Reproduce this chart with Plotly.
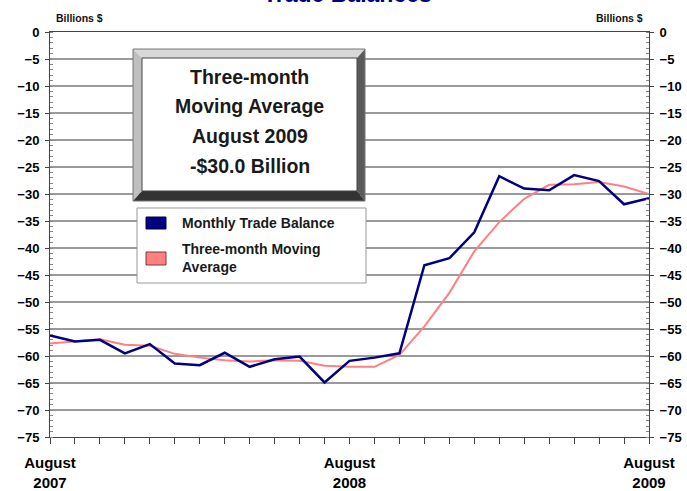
import plotly.graph_objects as go

months = list(range(25))  # August 2007 .. August 2009
tick_positions = [0, 12, 24]
tick_labels = ["August<br>2007", "August<br>2008", "August<br>2009"]

monthly_balance = [-56.2, -57.3, -57.0, -59.5, -57.8, -61.4, -61.7, -59.4, -62.0, -60.6,
                   -60.1, -64.9, -60.9, -60.3, -59.5, -43.2, -41.9, -37.1, -26.7, -29.0,
                   -29.3, -26.5, -27.6, -31.9, -30.8]
moving_avg = [-57.7, -57.3, -56.9, -57.9, -58.1, -59.6, -60.3, -60.8, -61.0, -60.8,
              -60.9, -61.8, -62.0, -62.0, -59.8, -54.5, -48.3, -40.6, -35.2, -30.9,
              -28.3, -28.2, -27.8, -28.6, -30.0]

NAVY = "#000080"
PINK = "#ff8080"
FONT = "Arial, Liberation Sans, sans-serif"

W, H = 687, 491
L, R, T, B = 50, 649, 32, 437


def px(x):
    return (x - L) / (R - L)


def py(y):
    return (B - y) / (B - T)


fig = go.Figure()
fig.add_trace(go.Scatter(x=months, y=moving_avg, mode="lines", name="Three-month Moving Average",
                         line=dict(color=PINK, width=2), showlegend=False))
fig.add_trace(go.Scatter(x=months, y=monthly_balance, mode="lines", name="Monthly Trade Balance",
                         line=dict(color=NAVY, width=2.5), showlegend=False))
fig.add_trace(go.Scatter(x=[0], y=[-75], yaxis="y2", mode="markers", marker=dict(opacity=0),
                         showlegend=False, hoverinfo="skip"))

shapes = []
# Bevelled text box
bx0, bx1, by0, by1 = 133, 365, 49, 201
ix0, ix1, iy0, iy1 = 142, 357, 58, 191


def poly(pts, color):
    d = "M " + " L ".join(f"{px(a)},{py(b)}" for a, b in pts) + " Z"
    return dict(type="path", xref="paper", yref="paper", path=d, fillcolor=color,
                line=dict(width=0), layer="above")


shapes.append(poly([(bx0, by0), (bx1, by0), (ix1, iy0), (ix0, iy0)], "#d9d9d9"))
shapes.append(poly([(bx0, by0), (ix0, iy0), (ix0, iy1), (bx0, by1)], "#bfbfbf"))
shapes.append(poly([(bx1, by0), (bx1, by1), (ix1, iy1), (ix1, iy0)], "#5a5a5a"))
shapes.append(poly([(bx0, by1), (ix0, iy1), (ix1, iy1), (bx1, by1)], "#333333"))
shapes.append(dict(type="rect", xref="paper", yref="paper", x0=px(bx0), x1=px(bx1), y0=py(by1), y1=py(by0),
                   line=dict(color="#777777", width=1), layer="above"))
shapes.append(dict(type="rect", xref="paper", yref="paper", x0=px(ix0), x1=px(ix1), y0=py(iy1), y1=py(iy0),
                   fillcolor="white", line=dict(color="#444444", width=1), layer="above"))
# Legend box
shapes.append(dict(type="rect", xref="paper", yref="paper", x0=px(137), x1=px(366), y0=py(283), y1=py(208),
                   fillcolor="white", line=dict(color="#999999", width=1), layer="above"))
shapes.append(dict(type="rect", xref="paper", yref="paper", x0=px(146), x1=px(166), y0=py(229), y1=py(217),
                   fillcolor=NAVY, line=dict(color="#000040", width=1), layer="above"))
shapes.append(dict(type="rect", xref="paper", yref="paper", x0=px(146), x1=px(166), y0=py(265), y1=py(252),
                   fillcolor=PINK, line=dict(color="#7a3a3a", width=1), layer="above"))

annotations = []
box_lines = ["Three-month", "Moving Average", "August 2009", "-$30.0 Billion"]
box_y = [77, 106, 136, 166]
for t, yy in zip(box_lines, box_y):
    annotations.append(dict(text=t, xref="paper", yref="paper", x=px(249.5), y=py(yy), showarrow=False,
                            xanchor="center", yanchor="middle",
                            font=dict(family=FONT, size=19.5, color="#1a1a1a", weight="bold")))
annotations.append(dict(text="Monthly Trade Balance", xref="paper", yref="paper", x=px(180), y=py(223),
                        showarrow=False, xanchor="left", yanchor="middle",
                        font=dict(family=FONT, size=14, color="#1a1a1a", weight="bold")))
annotations.append(dict(text="Three-month Moving<br>Average", xref="paper", yref="paper", x=px(180), y=py(258),
                        showarrow=False, xanchor="left", yanchor="middle", align="left",
                        font=dict(family=FONT, size=14, color="#1a1a1a", weight="bold")))
annotations.append(dict(text="Billions $", xref="paper", yref="paper", x=px(54), y=py(18), showarrow=False,
                        xanchor="left", yanchor="middle",
                        font=dict(family=FONT, size=10.5, color="#111111", weight="bold")))
annotations.append(dict(text="Billions $", xref="paper", yref="paper", x=px(645), y=py(18), showarrow=False,
                        xanchor="right", yanchor="middle",
                        font=dict(family=FONT, size=10.5, color="#111111", weight="bold")))
annotations.append(dict(text="Trade Balances", xref="paper", yref="paper", x=px(347.5), y=py(-6), showarrow=False,
                        xanchor="center", yanchor="middle",
                        font=dict(family=FONT, size=23, color=NAVY, weight="bold")))

yax = dict(range=[-75, 0], dtick=5, tick0=0, showgrid=True, gridcolor="#9a9a9a", gridwidth=1.5,
           showline=True, linecolor="#444444", linewidth=1, ticks="outside", ticklen=4,
           tickcolor="#444444", zeroline=False, automargin=False, ticklabelstandoff=3,
           tickfont=dict(family=FONT, size=13, color="black", weight="bold"),
           minor=dict(dtick=1, ticks="inside", ticklen=3, tickcolor="#888888", showgrid=False))

fig.update_layout(
    width=W, height=H,
    margin=dict(l=L, r=W - R, t=T, b=H - B, autoexpand=False),
    paper_bgcolor="white", plot_bgcolor="white",
    font=dict(family=FONT),
    xaxis=dict(range=[0, 24], tickvals=tick_positions, ticktext=tick_labels, showgrid=False,
               showline=True, linecolor="#444444", linewidth=1, mirror=True, ticks="outside", ticklen=6,
               tickcolor="#444444", zeroline=False, automargin=False, ticklabelstandoff=6,
               tickfont=dict(family=FONT, size=15, color="black", weight="bold"),
               minor=dict(dtick=1, tick0=0, ticks="outside", ticklen=6, tickcolor="#444444")),
    yaxis=yax,
    yaxis2=dict(yax, overlaying="y", side="right", showgrid=False),
    shapes=shapes,
    annotations=annotations,
    hovermode=False,
)

fig.write_html("out.html", config={"displayModeBar": False},
               post_script="document.body.style.margin='0';document.body.style.overflow='hidden';")
